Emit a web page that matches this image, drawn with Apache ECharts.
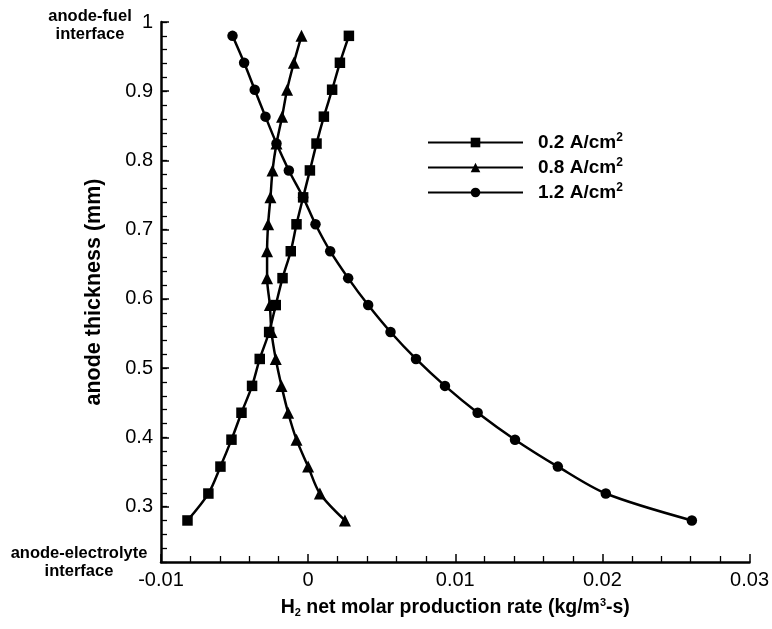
<!DOCTYPE html>
<html>
<head>
<meta charset="utf-8">
<script src="https://cdn.jsdelivr.net/npm/echarts@6/dist/echarts.min.js"></script>
<style>
html,body{margin:0;padding:0;background:#fff;}
#chart{width:772px;height:629px;}
</style>
</head>
<body>
<div id="chart"></div>
<script>
// anode thickness (mm) positions of the markers
var thickness = [0.28, 0.3189, 0.3578, 0.3967, 0.4356, 0.4744, 0.5133, 0.5522, 0.5911, 0.63,
                 0.6689, 0.7078, 0.7467, 0.7856, 0.8244, 0.8633, 0.9022, 0.9411, 0.98];
// H2 net molar production rate (kg/m3-s)
var rate02 = [-0.0082, -0.00678, -0.00596, -0.00521, -0.00453, -0.00381, -0.00329, -0.00265, -0.0022, -0.00174,
              -0.00118, -0.00079, -0.00034, 0.00012, 0.00057, 0.00107, 0.00163, 0.00216, 0.00277];
var rate08 = [0.0025, 0.0008, 0.0, -0.00079, -0.00136, -0.00181, -0.0022, -0.00249, -0.0026, -0.00279,
              -0.00279, -0.00272, -0.00256, -0.00242, -0.00215, -0.00177, -0.00143, -0.00097, -0.00045];
var rate12 = [0.02608, 0.02023, 0.01697, 0.01406, 0.01152, 0.0093, 0.00733, 0.0056, 0.00408, 0.00272,
              0.0015, 0.0005, -0.00034, -0.00131, -0.00215, -0.0029, -0.00363, -0.00435, -0.00514];
var seriesNames = ['0.2 A/cm', '0.8 A/cm', '1.2 A/cm'];
var seriesSymbols = ['rect', 'triangle', 'circle'];
var yMajorTicks = [0.3, 0.4, 0.5, 0.6, 0.7, 0.8, 0.9, 1.0];
var xTickLabels = ['-0.01', '0', '0.01', '0.02', '0.03'];

var FONT = '"Liberation Sans", Arial, Helvetica, sans-serif';
function pairs(xs) { return xs.map(function (x, i) { return [x, thickness[i]]; }); }
var allRates = [rate02, rate08, rate12];
var GRID = { left: 161, right: 22, top: 22, bottom: 67, containLabel: false };
var Y_MIN = 0.22, Y_MAX = 1.0;

var chart = echarts.init(document.getElementById('chart'), null, { renderer: 'canvas' });
var option = {
  backgroundColor: '#fff',
  animation: false,
  grid: [Object.assign({}, GRID), Object.assign({}, GRID)],
  legend: {
    left: 427, top: 132, orient: 'vertical', padding: 0,
    itemWidth: 95, itemHeight: 12, itemGap: 5,
    textStyle: {
      fontFamily: FONT, fontWeight: 'bold', fontSize: 19, color: '#000', padding: [0, 0, 0, 10],
      rich: {
        b: { fontFamily: FONT, fontWeight: 'bold', fontSize: 19, color: '#000' },
        s: { fontFamily: FONT, fontWeight: 'bold', fontSize: 12, color: '#000', verticalAlign: 'top', padding: [0, 0, 9, 0] }
      }
    },
    formatter: function (name) { return '{b|' + name + '}{s|2}'; },
    data: seriesNames
  },
  xAxis: [{
    gridIndex: 0, type: 'value', min: -0.01, max: 0.03, interval: 0.01,
    name: '{b|H}{sub|2}{b| net molar production rate (kg/m}{sup|3}{b|-s)}',
    nameLocation: 'middle', nameGap: 35,
    nameTextStyle: {
      rich: {
        b: { fontFamily: FONT, fontWeight: 'bold', fontSize: 19.5, color: '#000' },
        sub: { fontFamily: FONT, fontWeight: 'bold', fontSize: 11, color: '#000', verticalAlign: 'bottom', padding: [10, 0, 0, 0] },
        sup: { fontFamily: FONT, fontWeight: 'bold', fontSize: 11, color: '#000', verticalAlign: 'top', padding: [0, 0, 10, 0] }
      }
    },
    axisLine: { show: true, onZero: false, lineStyle: { color: '#000', width: 2.5 } },
    axisTick: { show: true, inside: true, length: 8, lineStyle: { color: '#000', width: 1.5 } },
    minorTick: { show: true, splitNumber: 5, length: 6, lineStyle: { color: '#000', width: 1.3 } },
    splitLine: { show: false },
    axisLabel: {
      margin: 8, fontFamily: FONT, fontSize: 20, color: '#000',
      formatter: function (v) {
        var idx = Math.round((v + 0.01) / 0.01);
        return xTickLabels[idx] !== undefined ? xTickLabels[idx] : '';
      }
    }
  }, {
    gridIndex: 1, type: 'value', min: -0.01, max: 0.03, show: false
  }],
  yAxis: [{
    gridIndex: 0, type: 'value', min: Y_MIN, max: Y_MAX, position: 'left',
    name: 'anode thickness (mm)', nameLocation: 'middle', nameGap: 56,
    nameTextStyle: { fontFamily: FONT, fontWeight: 'bold', fontSize: 21.5, color: '#000' },
    axisLine: { show: true, onZero: false, lineStyle: { color: '#000', width: 2.5 } },
    axisTick: { show: true, inside: true, length: 8, customValues: yMajorTicks, lineStyle: { color: '#000', width: 1.5 } },
    splitLine: { show: false },
    axisLabel: {
      margin: 8, fontFamily: FONT, fontSize: 20, color: '#000', customValues: yMajorTicks,
      formatter: function (v) { return String(Math.round(v * 10) / 10); }
    }
  }, {
    gridIndex: 1, type: 'value', min: Y_MIN, max: Y_MAX, interval: 0.02, position: 'left',
    axisLine: { show: true, onZero: false, lineStyle: { color: 'rgba(0,0,0,0)', width: 1 } },
    axisTick: { show: true, inside: true, length: 6, lineStyle: { color: '#000', width: 1.3 } },
    axisLabel: { show: false },
    splitLine: { show: false }
  }],
  graphic: [
    { type: 'text', x: 90, y: 8, style: { text: 'anode-fuel\ninterface', align: 'center', textAlign: 'center', font: 'bold 16.5px ' + FONT, lineHeight: 17.5, fill: '#000' } },
    { type: 'text', x: 79, y: 545, style: { text: 'anode-electrolyte\ninterface', align: 'center', textAlign: 'center', font: 'bold 16.5px ' + FONT, lineHeight: 17.5, fill: '#000' } }
  ],
  series: seriesNames.map(function (nm, k) {
    return {
      name: nm, type: 'line', xAxisIndex: 0, yAxisIndex: 0,
      data: pairs(allRates[k]),
      smooth: 0.3,
      symbol: seriesSymbols[k],
      symbolSize: k === 1 ? 12 : 10.5,
      showAllSymbol: true,
      lineStyle: { color: '#000', width: 2.5 },
      itemStyle: { color: '#000' }
    };
  })
};
chart.setOption(option);
</script>
</body>
</html>
